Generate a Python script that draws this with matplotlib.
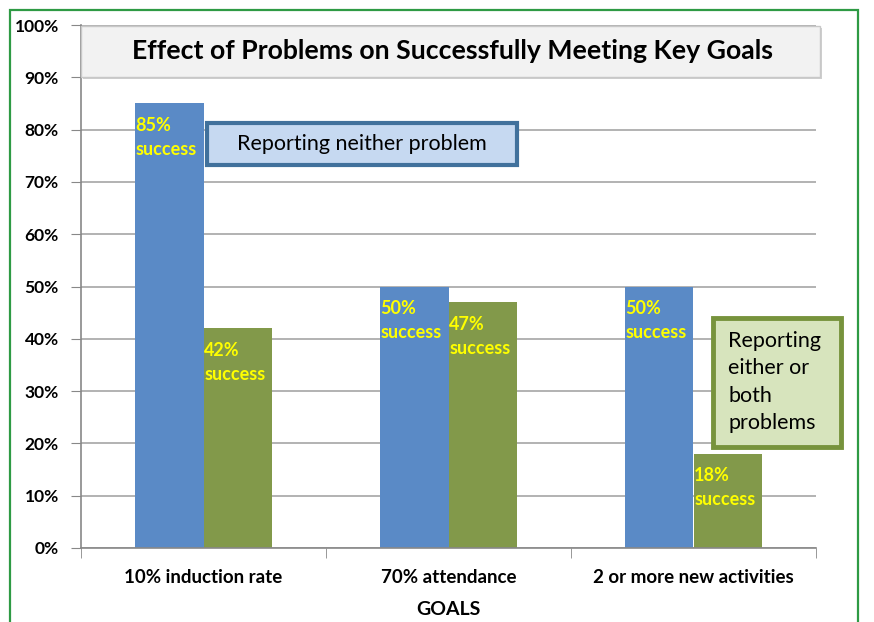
import numpy as np
import matplotlib.pyplot as plt
from matplotlib.patches import Rectangle, FancyBboxPatch

plt.rcParams['font.family'] = ['Lato', 'DejaVu Sans']

goals = ['10% induction rate', '70% attendance', '2 or more new activities']
neither = [85, 50, 50]
either_both = [42, 47, 18]
yticks = [0, 10, 20, 30, 40, 50, 60, 70, 80, 90, 100]

blue = '#5a8ac6'
green = '#82994a'

W, H = 874, 622
fig = plt.figure(figsize=(W / 100, H / 100), dpi=100)
ax = fig.add_axes([81 / W, 1 - 548 / H, (816 - 81) / W, (548 - 25) / H])

x = np.arange(len(goals))
bw = 0.28
b1 = ax.bar(x - bw / 2, neither, bw, color=blue, zorder=2)
b2 = ax.bar(x + bw / 2, either_both, bw, color=green, zorder=2)

# labels inside bars, top-left
for bars, vals in [(b1, neither), (b2, either_both)]:
    for r, v in zip(bars, vals):
        ax.text(r.get_x() + 0.003, v - 2.6, '%d%%\nsuccess' % v, color='#ffff00',
                fontsize=13, fontweight='bold', va='top', ha='left',
                linespacing=1.5, zorder=3)

ax.set_xlim(-0.5, 2.5)
ax.set_ylim(0, 100)
ax.set_yticks(yticks)
ax.set_yticklabels(['%d%%' % t for t in yticks], fontsize=12.5, fontweight='bold')
ax.yaxis.grid(True, color='#a6a6a6', lw=1.2, zorder=0)
ax.set_axisbelow(True)
ax.tick_params(axis='y', length=7, color='#888888', pad=9)

ax.set_xticks(x)
ax.set_xticklabels(goals, fontsize=13.5, fontweight='bold')
ax.tick_params(axis='x', length=0, pad=15)
ax.set_xticks([-0.5, 0.5, 1.5, 2.5], minor=True)
ax.tick_params(axis='x', which='minor', length=7, color='#888888')
ax.set_xlabel('GOALS', fontsize=14, fontweight='bold', labelpad=11)

for s in ['top', 'right']:
    ax.spines[s].set_visible(False)
ax.spines['left'].set_color('#888888')
ax.spines['bottom'].set_color('#888888')
ax.spines['left'].set_linewidth(1.2)
ax.spines['bottom'].set_linewidth(1.2)

# title box
tb = FancyBboxPatch((0.0, 0.901), 1.005, 0.098, boxstyle='square,pad=0',
                    transform=ax.transAxes, facecolor='#f2f2f2', edgecolor='#c8c8c8',
                    lw=1, zorder=5, clip_on=False)
sh = FancyBboxPatch((0.003, 0.896), 1.005, 0.098, boxstyle='square,pad=0',
                    transform=ax.transAxes, facecolor='#b0b0b0', edgecolor='none',
                    zorder=4, clip_on=False, alpha=0.6)
ax.add_patch(sh)
ax.add_patch(tb)
ax.text(0.506, 0.951, 'Effect of Problems on Successfully Meeting Key Goals',
        transform=ax.transAxes, ha='center', va='center', fontsize=19.2,
        fontweight='bold', zorder=6)

# legend-like boxes
fig.patches.append(Rectangle((207 / W, 1 - 165 / H), (517 - 207) / W, (165 - 123) / H,
                             transform=fig.transFigure, facecolor='#c6d9f1',
                             edgecolor='#41719c', lw=3, zorder=5))
fig.text(362 / W, 1 - 144 / H, 'Reporting neither problem', ha='center', va='center',
         fontsize=15.5, zorder=6)
fig.patches.append(Rectangle((713 / W, 1 - 447 / H), (841 - 713) / W, (447 - 318) / H,
                             transform=fig.transFigure, facecolor='#d7e4bd',
                             edgecolor='#77933c', lw=3.5, zorder=5))
fig.text(728 / W, 1 - 382 / H, 'Reporting\neither or\nboth\nproblems', ha='left',
         va='center', fontsize=15.5, linespacing=1.45, zorder=6)

# outer green frame
fig.patches.append(Rectangle((10 / W, -0.02), (858 - 10) / W, 1 - 10 / H + 0.02,
                             transform=fig.transFigure, facecolor='none',
                             edgecolor='#2e9a44', lw=1.6, zorder=0))

fig.savefig('out.png', dpi=100)
